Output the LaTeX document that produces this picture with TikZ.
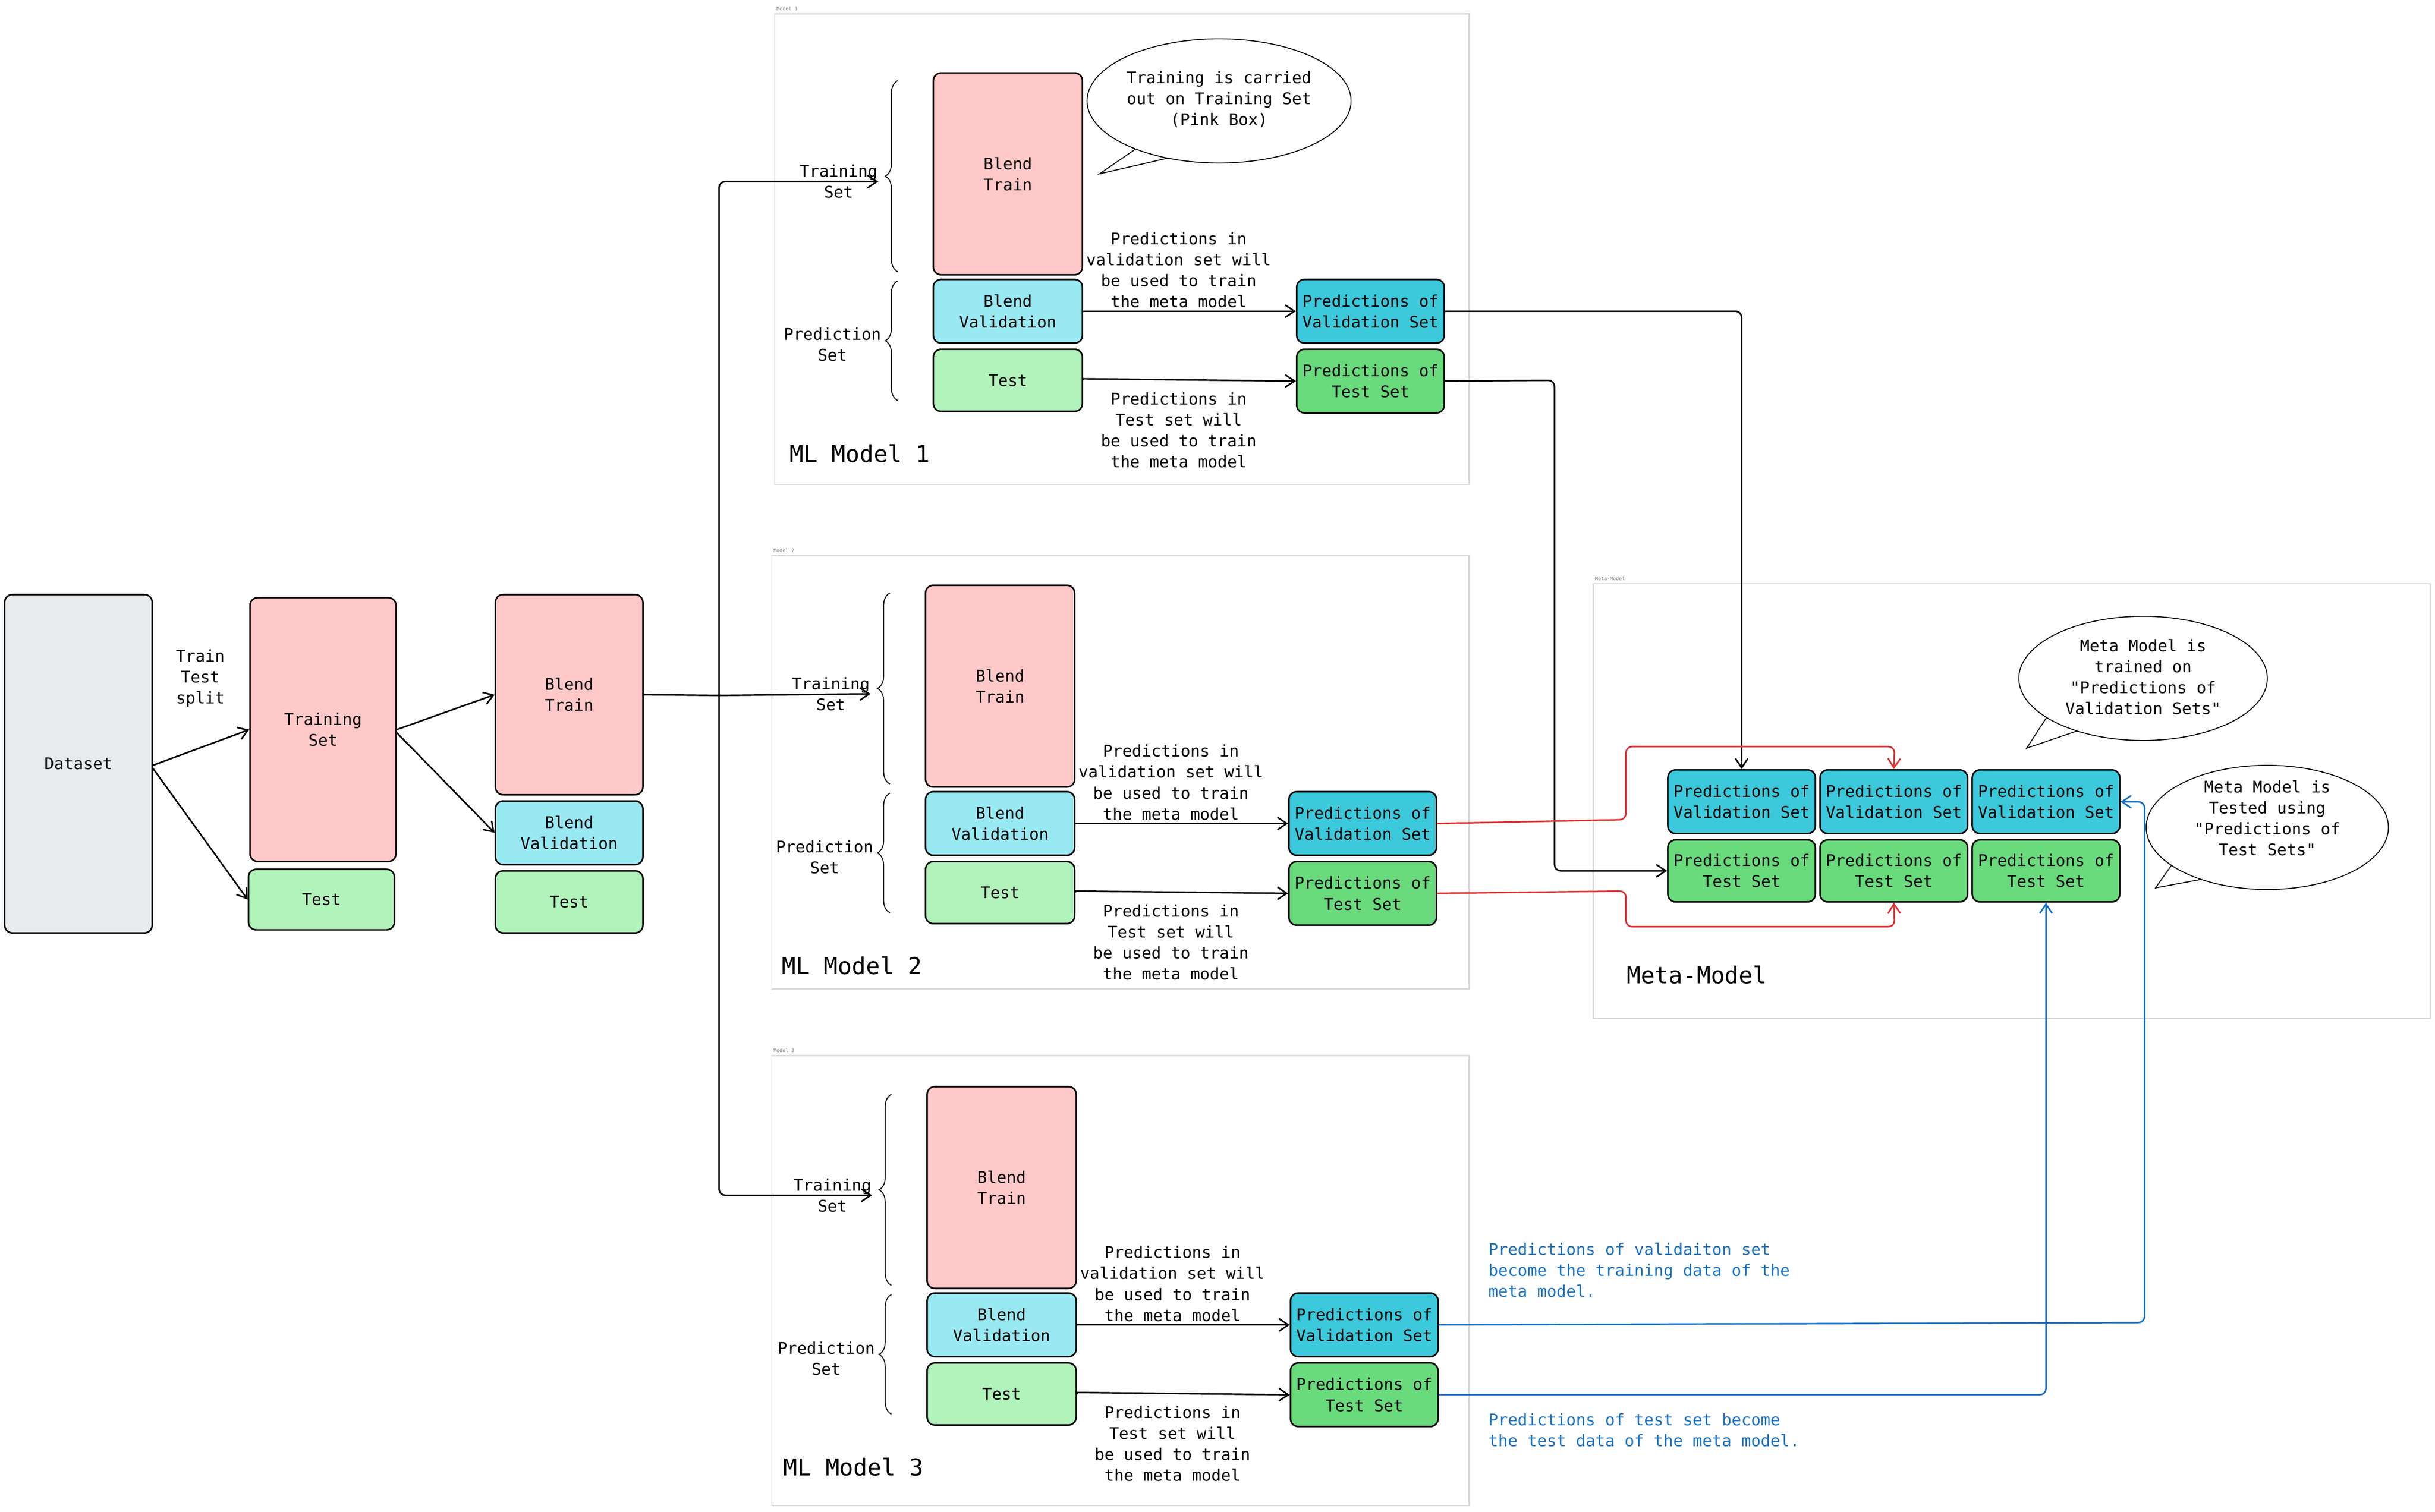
\documentclass[tikz,border=0pt]{standalone}
\usepackage{fontspec}
\setmonofont{DejaVu Sans Mono}
\usetikzlibrary{arrows.meta,decorations.pathreplacing}
\definecolor{pinkbox}{HTML}{FFC9C9}
\definecolor{cyanbox}{HTML}{99E9F2}
\definecolor{greenbox}{HTML}{B2F2BB}
\definecolor{cyandark}{HTML}{3BC9DB}
\definecolor{greendark}{HTML}{69DB7C}
\definecolor{graybox}{HTML}{E9ECEF}
\definecolor{redline}{HTML}{E03131}
\definecolor{blueline}{HTML}{1971C2}
\tikzset{every picture/.style={line width=0.5pt}}
\tikzset{
  box/.style={draw, rounded corners=2.5pt, align=center, inner sep=0pt, font=\ttfamily\fontsize{5.2}{6.75}\selectfont},
  txt/.style={align=center, inner sep=0pt, font=\ttfamily\fontsize{5.2}{6.75}\selectfont},
  frame/.style={draw=black!15, line width=0.4pt},
  tiny/.style={anchor=south west, inner sep=0.3pt, font=\ttfamily\fontsize{1.6}{2}\selectfont, text=black!50},
  big/.style={anchor=west, inner sep=0pt, font=\ttfamily\fontsize{7.5}{9}\selectfont},
  arr/.style={-{Straight Barb[length=3pt,width=4pt]}, line width=0.5pt},
  brc/.style={decorate, decoration={brace, amplitude=4pt}, line width=0.3pt},
  bubble/.style={draw, fill=white, line width=0.3pt},
}
% one model block, #1 = id, #2 = shift
\newcommand{\mlmodel}[2]{%
  \begin{scope}[shift={#2}]
  \node[box, fill=pinkbox, minimum width=48pt, minimum height=65pt] (bt#1) at (649,112) {Blend\\Train};
  \node[box, fill=cyanbox, minimum width=48pt, minimum height=20.5pt] (bv#1) at (649,200.5) {Blend\\Validation};
  \node[box, fill=greenbox, minimum width=48pt, minimum height=20pt] (te#1) at (649,245) {Test};
  \node[box, fill=cyandark, minimum width=47.5pt, minimum height=20.5pt] (pv#1) at (882.5,200.5) {Predictions of\\Validation Set};
  \node[box, fill=greendark, minimum width=47.5pt, minimum height=20.5pt] (pt#1) at (882.5,245.5) {Predictions of\\Test Set};
  \node[txt] (ts#1) at (540,117) {Training\\Set};
  \node[txt] (ps#1) at (536,222) {Prediction\\Set};
  \draw[brc] (578,175) -- (578,52);
  \draw[brc] (578,258) -- (578,181);
  \node[txt] (tv#1) at (759,174) {Predictions in\\validation set will\\be used to train\\the meta model};
  \node[txt] (tt#1) at (759,277) {Predictions in\\Test set will\\be used to train\\the meta model};
  \draw[arr] (bv#1.east) -- (pv#1.west);
  \draw[arr] (te#1.east) -- ++(0,-1) -- (pt#1.west);
  \node[big] (ml#1) at (508,292) {ML Model #1};
  \end{scope}}

\begin{document}
\begin{tikzpicture}[x=0.5pt,y=0.5pt,yscale=-1]
\useasboundingbox (0,0) rectangle (1568,974);

% frames
\draw[frame] (499,9) rectangle (946,312);
\node[tiny] at (499,8) {Model 1};
\draw[frame] (497,358) rectangle (946,637);
\node[tiny] at (497,357) {Model 2};
\draw[frame] (497,680) rectangle (946,970);
\node[tiny] at (497,679) {Model 3};
\draw[frame] (1026,376) rectangle (1565,656);
\node[tiny] at (1026,375) {Meta-Model};

% left part
\node[box, fill=graybox, minimum width=47.5pt, minimum height=109pt] (data) at (50.5,492) {Dataset};
\node[txt] (split) at (129,437) {Train\\Test\\split};
\node[box, fill=pinkbox, minimum width=47pt, minimum height=85pt] (train) at (208,470) {Training\\Set};
\node[box, fill=greenbox, minimum width=47pt, minimum height=19.5pt] (test) at (207,579.5) {Test};
\node[box, fill=pinkbox, minimum width=47.5pt, minimum height=64.5pt] (btr) at (366.5,447.5) {Blend\\Train};
\node[box, fill=cyanbox, minimum width=47.5pt, minimum height=20.5pt] (bva) at (366.5,536.5) {Blend\\Validation};
\node[box, fill=greenbox, minimum width=47.5pt, minimum height=20pt] (bte) at (366.5,581) {Test};
\draw[arr] (data.east) ++(0,1) -- (train.west);
\draw[arr] (data.east) ++(0,3) -- (test.west);
\draw[arr] (train.east) -- (btr.west);
\draw[arr] (train.east) ++(0,2) -- (bva.west);

% the three models
\mlmodel{1}{(0,0)}
\mlmodel{2}{(-5,330)}
\mlmodel{3}{(-4,653)}

% fan out from blend train
\coordinate (fork) at (463,448);
\draw[rounded corners=2pt] (btr.east) -- (fork);
\draw[arr, rounded corners=2pt] (fork) |- (ts1.east);
\draw[arr, rounded corners=2pt] (fork) -- (ts2.east);
\draw[arr, rounded corners=2pt] (fork) |- (ts3.east);

% speech bubble 1
\draw[bubble] (740,90) -- (708,112) -- (760,100);
\draw[bubble] (785,65) ellipse (85 and 40);
\node[txt] (b1) at (785,64) {Training is carried\\out on Training Set\\(Pink Box)};

% meta model
\foreach \c/\x in {1/1121.5, 2/1219.5, 3/1317.5} {
  \node[box, fill=cyandark, minimum width=47.5pt, minimum height=20.5pt] (mv\c) at (\x,516.5) {Predictions of\\Validation Set};
  \node[box, fill=greendark, minimum width=47.5pt, minimum height=20pt] (mt\c) at (\x,561) {Predictions of\\Test Set};
}
\node[big] (mlm) at (1047,628) {Meta-Model};

% speech bubbles meta
\draw[bubble] (1318,462) -- (1305,482) -- (1340,470);
\draw[bubble] (1380,437) ellipse (80 and 40);
\node[txt] (b2) at (1380,436) {Meta Model is\\trained on\\"Predictions of\\Validation Sets"};
\draw[bubble] (1400,555) -- (1388,572) -- (1420,566);
\draw[bubble] (1460,533) ellipse (78 and 40);
\node[txt] (b3) at (1460,527) {Meta Model is\\Tested using\\"Predictions of\\Test Sets"};

% model 1 to meta
\draw[arr, rounded corners=2pt] (pv1.east) -| (mv1.north);
\draw[arr, rounded corners=2pt] (pt1.east) -- (1001,245) |- (mt1.west);
% model 2 to meta
\draw[arr, redline, rounded corners=2pt] (pv2.east) -- (1047,528) |- (1220,481) -- (mv2.north);
\draw[arr, redline, rounded corners=2pt] (pt2.east) -- (1047,574) |- (1220,597) -- (mt2.south);
% model 3 to meta
\draw[arr, blueline, rounded corners=2pt] (pv3.east) -- (1381,852) |- (mv3.east);
\draw[arr, blueline, rounded corners=2pt] (pt3.east) -| (mt3.south);
\node[txt, anchor=north west, align=left, text=blueline] (nv) at (958,800) {Predictions of validaiton set\\become the training data of the\\meta model.};
\node[txt, anchor=north west, align=left, text=blueline] (nt) at (958,910) {Predictions of test set become\\the test data of the meta model.};
\end{tikzpicture}
\end{document}
